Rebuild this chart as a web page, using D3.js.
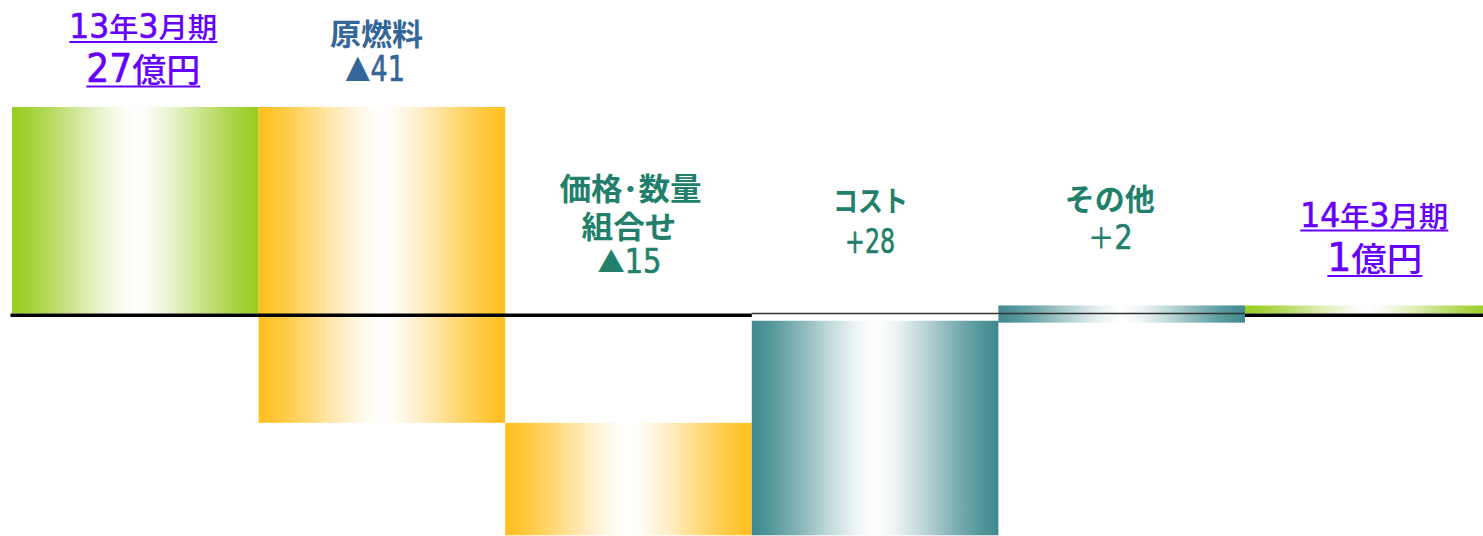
<!DOCTYPE html>
<html><head><meta charset="utf-8">
<script src="https://cdn.jsdelivr.net/npm/d3@7"></script>
<style>
html,body{margin:0;padding:0;background:#fff;overflow:hidden}
svg{display:block}
</style></head>
<body>
<svg id="chart" width="1483" height="536"></svg>
<script>
// ---- data ----
const categories = ["13年3月期", "原燃料", "価格・数量組合せ", "コスト", "その他", "14年3月期"];
const barStart   = [0, 27, -14.3, -29, -1.2, 0];
const barEnd     = [27, -14.3, -29, -0.95, 1.05, 1.05];
const barKind    = ["total", "minus", "minus", "plus", "plus", "total"];
const labelLines = [
  ["13年3月期", "27億円"],
  ["原燃料", "▲41"],
  ["価格･数量", "組合せ", "▲15"],
  ["コスト", "+28"],
  ["その他", "＋2"],
  ["14年3月期", "1億円"]
];

// ---- layout / style ----
const W = 1483, H = 536;
const svg = d3.select("#chart");
const x = d3.scaleBand().domain(categories).range([12, 12 + 6 * 246.6]).padding(0);
const y = d3.scaleLinear().domain([0, 27]).range([313.5, 107]);

const colorOf = {total: "#99cc20", minus: "#ffc020", plus: "#3f8a8e"};
const defs = svg.append("defs");
Object.entries(colorOf).forEach(([k, c]) => {
  const g = defs.append("linearGradient").attr("id", "g-" + k)
    .attr("x1", "0%").attr("x2", "100%").attr("y1", "0%").attr("y2", "0%");
  const mix = d3.interpolateRgb("#ffffff", c);
  const N = 24;
  for (let s = 0; s <= N; s++) {
    const off = s / N;
    const t = Math.abs(off - 0.5) / 0.5;           // 0 centre .. 1 edge
    const f = Math.pow(t, 1.1) * 0.5 + (t * t * (3 - 2 * t)) * 0.5;
    g.append("stop").attr("offset", (off * 100) + "%").attr("stop-color", mix(f));
  }
});

svg.append("g").selectAll("rect").data(categories).join("rect")
  .attr("x", d => x(d))
  .attr("width", x.bandwidth())
  .attr("y", (d, i) => y(Math.max(barStart[i], barEnd[i])))
  .attr("height", (d, i) => Math.abs(y(barStart[i]) - y(barEnd[i])))
  .attr("fill", (d, i) => "url(#g-" + barKind[i] + ")");

// axis lines
const x0 = 10.5, xCostL = x(categories[3]), xLastL = x(categories[5]);
svg.append("line").attr("x1", x0).attr("x2", xCostL).attr("y1", y(0) + 1.7).attr("y2", y(0) + 1.7)
  .attr("stroke", "#000").attr("stroke-width", 3.6);
svg.append("line").attr("x1", xLastL).attr("x2", W).attr("y1", y(0) + 1.7).attr("y2", y(0) + 1.7)
  .attr("stroke", "#000").attr("stroke-width", 3.6);
svg.append("line").attr("x1", xCostL).attr("x2", xLastL).attr("y1", y(0)).attr("y2", y(0))
  .attr("stroke", "#333").attr("stroke-width", 1.3);

// labels layout: [dx from band centre, baseline, size, width, weight, color, underline, digitWeight]
const PUR = "#6600ff", BLU = "#336699", TEA = "#217f6b";
const labelLayout = [
  [[8, 38, 28, 148, 500, PUR, 42, 400], [8, 82, 33, 114, 500, PUR, 86.5, 400]],
  [[-5.5, 45, 30, 93, 700, BLU, 0, 400], [-7, 81, 30, 60, 500, BLU, 0, 400]],
  [[2, 200, 31, 142, 700, TEA, 0, 700], [0.5, 238, 31, 95, 700, TEA, 0, 700], [1, 273, 28, 64, 500, TEA, 0, 400]],
  [[-4.5, 212, 29, 75, 700, TEA, 0, 700], [-5, 253, 29, 50, 500, TEA, 0, 400]],
  [[-12, 210, 30, 90, 700, TEA, 0, 700], [-11.5, 249, 29, 45, 500, TEA, 0, 400]],
  [[6, 227, 28, 148, 500, PUR, 230.5, 400], [6.5, 271, 33, 95, 500, PUR, 276, 400]]
];
const FONT_CJK = "'Noto Sans CJK JP', sans-serif";
const FONT_NUM = "'Liberation Sans Narrow', 'DejaVu Sans Condensed', 'Liberation Sans', sans-serif";

const lg = svg.append("g");
categories.forEach((cat, i) => {
  const cx = x(cat) + x.bandwidth() / 2;
  labelLines[i].forEach((txt, j) => {
    const [dx, base, size, w, weight, col, ul, dw] = labelLayout[i][j];
    const t = lg.append("text")
      .attr("x", cx + dx - w / 2).attr("y", base)
      .attr("textLength", w).attr("lengthAdjust", "spacingAndGlyphs")
      .attr("fill", col).attr("font-family", FONT_CJK)
      .attr("font-size", size).attr("font-weight", weight);
    const runs = txt.match(/[0-9+]+|[^0-9+]+/g);
    runs.forEach(r => {
      const ts = t.append("tspan").text(r);
      if (/^[0-9+]+$/.test(r)) {
        ts.attr("font-family", FONT_NUM).attr("font-size", size * 1.18).attr("font-weight", dw)
          .attr("stroke", col).attr("stroke-width", dw === 400 ? 0.6 : 0);
      }
    });
    if (ul) {
      lg.append("line").attr("x1", cx + dx - w / 2).attr("x2", cx + dx + w / 2)
        .attr("y1", ul).attr("y2", ul).attr("stroke", col).attr("stroke-width", 2.2);
    }
  });
});
</script>
</body></html>
